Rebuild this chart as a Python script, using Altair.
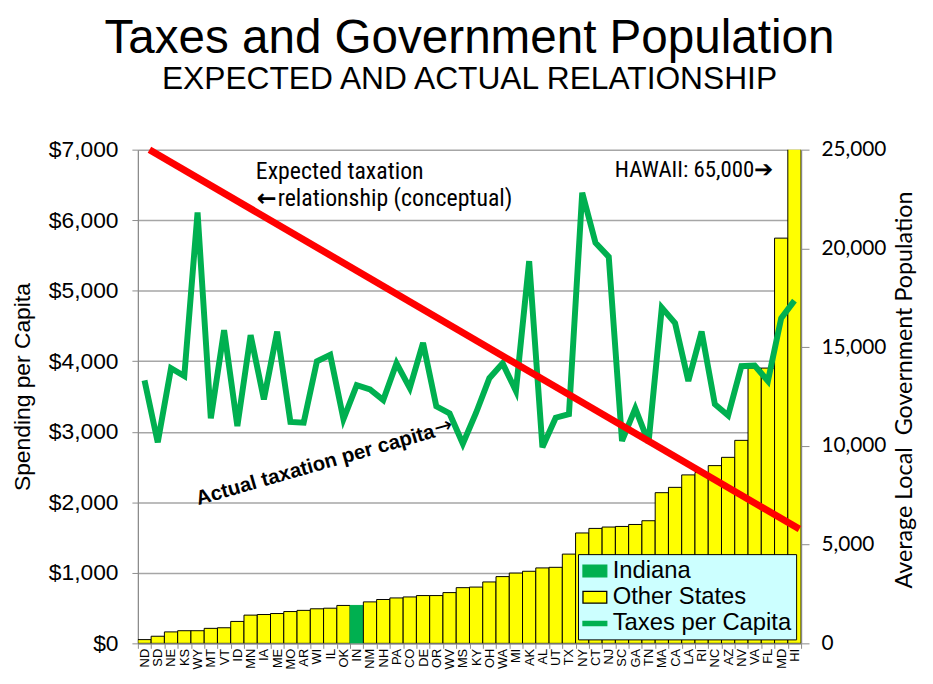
import altair as alt
import pandas as pd

# ---------------- data ----------------
states = ["ND", "SD", "NE", "KS", "WY", "MT", "VT", "ID", "MN", "IA", "ME", "MO", "AR",
          "WI", "IL", "OK", "IN", "NM", "NH", "PA", "CO", "DE", "OR", "WV", "MS", "KY",
          "OH", "WA", "MI", "AK", "AL", "UT", "TX", "NY", "CT", "NJ", "SC", "GA", "TN",
          "MA", "CA", "LA", "RI", "NC", "AZ", "NV", "VA", "FL", "MD", "HI"]
local_gov_pop = [190, 360, 580, 640, 640, 760, 790, 1110, 1430, 1460, 1510, 1610, 1670,
                 1750, 1780, 1920, 1920, 2100, 2220, 2300, 2350, 2420, 2420, 2570, 2820, 2850,
                 3110, 3380, 3560, 3650, 3820, 3850, 4520, 5590, 5820, 5890, 5920, 6020, 6210,
                 7630, 7900, 8530, 8650, 9000, 9420, 10280, 13940, 13940, 20520, 65000]
taxes_per_capita = [3730, 2850, 3900, 3790, 6110, 3190, 4440, 3080, 4370, 3460, 4420, 3140, 3130,
                    4000, 4090, 3180, 3660, 3600, 3450, 3970, 3620, 4260, 3360, 3260, 2830, 3270,
                    3760, 3970, 3580, 5420, 2780, 3200, 3250, 6390, 5680, 5480, 2870, 3330, 2850,
                    4760, 4540, 3720, 4420, 3390, 3230, 3930, 3940, 3720, 4610, 4860]
expected_states = ["ND", "HI"]
expected_values = [7000, 1620]
highlight_state = "IN"
legend_labels = ["Indiana", "Other States", "Taxes per Capita"]
left_ticks = [0, 1000, 2000, 3000, 4000, 5000, 6000, 7000]
right_ticks = [0, 5000, 10000, 15000, 20000, 25000]

title_text = "Taxes and Government Population"
subtitle_text = "EXPECTED AND ACTUAL RELATIONSHIP"
left_title = "Spending per Capita"
right_title = "Average Local\u00a0 Government Population"
expected_note_lines = ["Expected taxation", "relationship (conceptual)"]
left_arrow = "\u2190"
hawaii_note = "HAWAII: 65,000\u2794"
actual_note = "Actual taxation per capita"
actual_arrow = "\u2192"

GREEN = "#00b050"
YELLOW = "#ffff00"
RED = "#ff0000"
GRAY = "#8c8c8c"
FONT = "Liberation Sans"
NARROW = "Liberation Sans Narrow, Roboto Condensed, Roboto"
ARROWFONT = "DejaVu Sans"

df = pd.DataFrame({"state": states, "pop": local_gov_pop, "tax": taxes_per_capita})
exp_df = pd.DataFrame({"state": expected_states, "value": expected_values})

x_scale = alt.Scale(type="band", domain=states, paddingInner=0, paddingOuter=0)
x_axis = alt.Axis(title=None, labelAngle=270, labelFont=FONT, labelFontSize=13,
                  labelColor="black", labelPadding=0, tickBand="extent", tickSize=5,
                  tickColor=GRAY, domainColor=GRAY, domainWidth=1.3, grid=False)

bars = alt.Chart(df).mark_bar(clip=True, strokeWidth=1).encode(
    x=alt.X("state:N", sort=states, scale=x_scale, axis=x_axis),
    y=alt.Y("pop:Q", scale=alt.Scale(domain=[0, 25000], nice=False),
            axis=alt.Axis(orient="right", values=right_ticks, format=",.0f", grid=False,
                          domainColor=GRAY, domainWidth=1.3, tickColor=GRAY, tickSize=8,
                          labelFont="Lato", labelFontSize=21, labelColor="black",
                          labelPadding=12, title=right_title, titleFont="Lato",
                          titleFontSize=23.5, titleFontWeight="normal", titleColor="black",
                          titleAngle=270, titleX=104, titleY=242, titleAlign="center",
                          titleBaseline="middle")),
    fill=alt.condition(alt.datum.state == highlight_state, alt.value(GREEN), alt.value(YELLOW)),
    stroke=alt.condition(alt.datum.state == highlight_state, alt.value(GREEN), alt.value("black")),
)

left_axis = alt.Axis(orient="left", values=left_ticks, format="$,.0f", grid=True,
                     gridColor="#a6a6a6", gridWidth=1.5, domainColor=GRAY, domainWidth=1.3,
                     tickColor=GRAY, tickSize=6, labelFont=FONT, labelFontSize=23,
                     labelColor="black", labelPadding=14, title=left_title, titleFont=FONT,
                     titleFontSize=23, titleFontWeight="normal", titleColor="black",
                     titleAngle=270, titleX=-116, titleY=239, titleAlign="center",
                     titleBaseline="middle")

tax_line = alt.Chart(df).mark_line(color=GREEN, strokeWidth=6).encode(
    x=alt.X("state:N", sort=states, scale=x_scale),
    y=alt.Y("tax:Q", scale=alt.Scale(domain=[0, 7000], nice=False), axis=left_axis),
)
expected_line = alt.Chart(exp_df).mark_line(color=RED, strokeWidth=7, xOffset=5).encode(
    x=alt.X("state:N", sort=states, scale=x_scale),
    y=alt.Y("value:Q", scale=alt.Scale(domain=[0, 7000], nice=False)),
)
lines = alt.layer(tax_line, expected_line)

exp_text1 = alt.Chart(pd.DataFrame({"t": [expected_note_lines[0]]})).mark_text(
    font=NARROW, fontSize=24, align="left", baseline="alphabetic", color="black").encode(
    x=alt.value(119), y=alt.value(29.5), text="t:N")
exp_arrow = alt.Chart(pd.DataFrame({"t": [left_arrow]})).mark_text(
    font=ARROWFONT, fontSize=24, fontWeight="bold", align="center", baseline="middle",
    color="black").encode(x=alt.value(130), y=alt.value(50), text="t:N")
exp_text2 = alt.Chart(pd.DataFrame({"t": [expected_note_lines[1]]})).mark_text(
    font=NARROW, fontSize=24, align="left", baseline="alphabetic", color="black").encode(
    x=alt.value(141), y=alt.value(57), text="t:N")
hawaii_text = alt.Chart(pd.DataFrame({"t": [hawaii_note]})).mark_text(
    font=NARROW, fontSize=23, align="right", baseline="alphabetic", color="black").encode(
    x=alt.value(641), y=alt.value(28), text="t:N")
actual_text = alt.Chart(pd.DataFrame({"t": [actual_note]})).mark_text(
    font=FONT, fontSize=20.5, fontWeight="bold", align="left", baseline="alphabetic",
    angle=344, color="black").encode(x=alt.value(61), y=alt.value(358.7), text="t:N")
actual_arrow_text = alt.Chart(pd.DataFrame({"t": [actual_arrow]})).mark_text(
    font=ARROWFONT, fontSize=22, align="center", baseline="middle", angle=344,
    color="black").encode(x=alt.value(308), y=alt.value(279), text="t:N")

box = "M-1,-0.5L1,-0.5L1,0.5L-1,0.5Z"
stroke_sym = "M-1,-0.18L1,-0.18L1,0.18L-1,0.18Z"
leg = alt.Legend(title=None, orient="none", legendX=444, legendY=408, direction="vertical",
                 fillColor="#ccffff", strokeColor="black", padding=4, labelFont=FONT,
                 labelFontSize=24, labelColor="black", labelOffset=5, symbolSize=576,
                 symbolStrokeWidth=1.3, symbolOpacity=1, rowPadding=1.5, labelLimit=400)
legend_layer = alt.Chart(pd.DataFrame({"series": legend_labels})).mark_point(
    filled=True, opacity=0).encode(
    fill=alt.Fill("series:N", scale=alt.Scale(domain=legend_labels, range=[GREEN, YELLOW, GREEN]),
                  legend=leg),
    stroke=alt.Stroke("series:N", scale=alt.Scale(domain=legend_labels, range=[GREEN, "black", GREEN]),
                      legend=leg),
    shape=alt.Shape("series:N", scale=alt.Scale(domain=legend_labels, range=[box, box, stroke_sym]),
                    legend=leg),
)

chart = alt.layer(bars, lines, exp_text1, exp_arrow, exp_text2, hawaii_text, actual_text,
                  actual_arrow_text, legend_layer).resolve_scale(y="independent").properties(
    width=669, height=498,
    title=alt.TitleParams(text=title_text, subtitle=subtitle_text, font=FONT, fontSize=48,
                          fontWeight="normal", color="black", subtitleFont=FONT,
                          subtitleFontSize=32, subtitleColor="black", anchor="middle",
                          offset=41, subtitlePadding=1),
    autosize=alt.AutoSizeParams(type="none"),
    padding={"left": 131, "top": 140, "right": 125, "bottom": 26},
).configure_view(stroke=None)

chart.save("out.html", embed_options={"renderer": "svg", "actions": False})
